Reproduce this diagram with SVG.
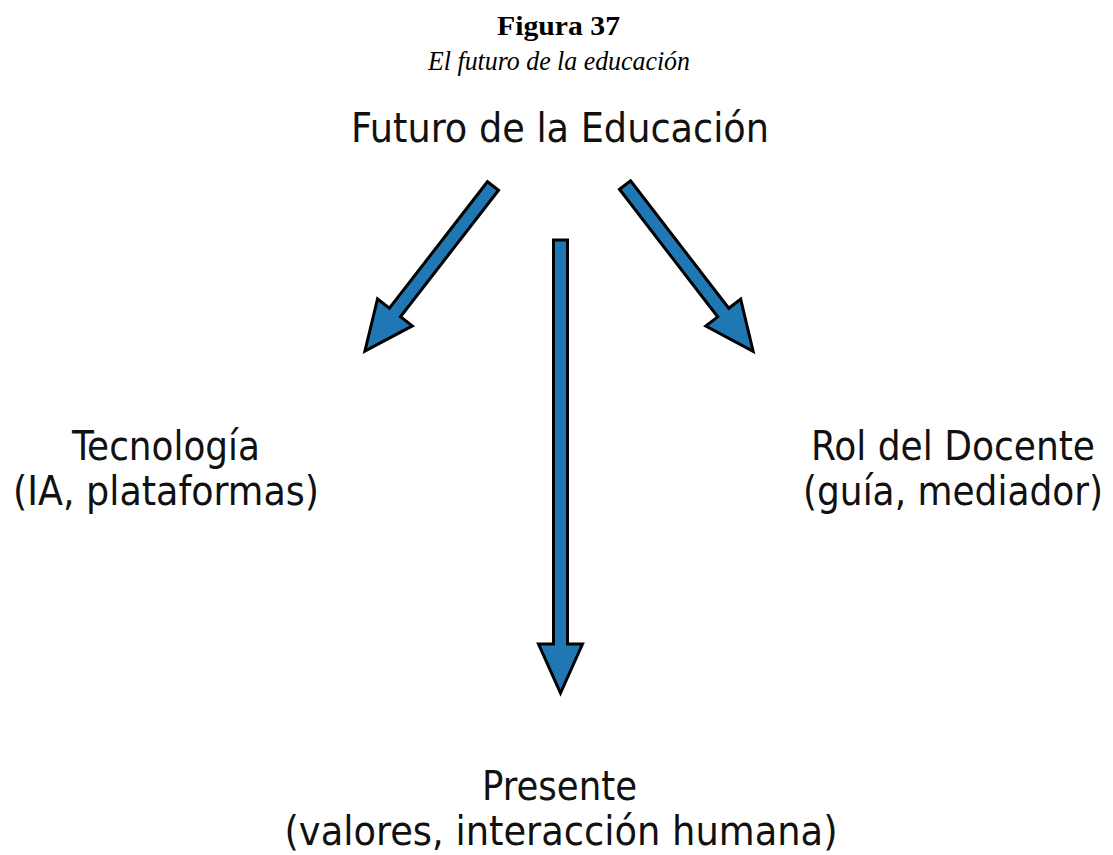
<svg xmlns="http://www.w3.org/2000/svg" width="1113" height="855" viewBox="0 0 1113 855">
<style>
.lbl{font-family:"DejaVu Sans Condensed","DejaVu Sans","Liberation Sans",sans-serif;font-size:41px;fill:#111;text-anchor:middle}
.arrow{fill:#1f77b4;stroke:#000;stroke-width:3;stroke-linejoin:miter}
.cap1{font-family:"Liberation Serif",serif;font-weight:bold;font-size:28px;fill:#000;text-anchor:middle}
.cap2{font-family:"Liberation Serif",serif;font-style:italic;font-size:27px;fill:#000;text-anchor:middle}
</style>
<rect width="1113" height="855" fill="#fff"/>
<g id="caption">
<text class="cap1" x="558.5" y="35" textLength="123" lengthAdjust="spacingAndGlyphs">Figura 37</text>
<text class="cap2" x="559" y="70" textLength="262" lengthAdjust="spacingAndGlyphs">El futuro de la educación</text>
</g>
<g id="node-futuro">
<text class="lbl" x="560" y="142" textLength="418" lengthAdjust="spacingAndGlyphs">Futuro de la Educación</text>
</g>
<g id="node-tecnologia">
<text class="lbl" x="166" y="460" textLength="188" lengthAdjust="spacingAndGlyphs">Tecnología</text>
<text class="lbl" x="166" y="505" textLength="306" lengthAdjust="spacingAndGlyphs">(IA, plataformas)</text>
</g>
<g id="node-docente">
<text class="lbl" x="953" y="460" textLength="284" lengthAdjust="spacingAndGlyphs">Rol del Docente</text>
<text class="lbl" x="953" y="505" textLength="300" lengthAdjust="spacingAndGlyphs">(guía, mediador)</text>
</g>
<g id="node-presente">
<text class="lbl" x="559.5" y="800" textLength="155" lengthAdjust="spacingAndGlyphs">Presente</text>
<text class="lbl" x="561" y="845" textLength="553" lengthAdjust="spacingAndGlyphs">(valores, interacción humana)</text>
</g>
<g id="connectors">
<polygon class="arrow" transform="translate(493,186) rotate(127.8)" points="0,-7 160,-7 160,-22 209,0 160,22 160,7 0,7"/>
<polygon class="arrow" transform="translate(625,185) rotate(52.4)" points="0,-7 161,-7 161,-22 210,0 161,22 161,7 0,7"/>
<polygon class="arrow" transform="translate(560.5,240) rotate(90)" points="0,-7 404,-7 404,-22 453,0 404,22 404,7 0,7"/>
</g>
</svg>
